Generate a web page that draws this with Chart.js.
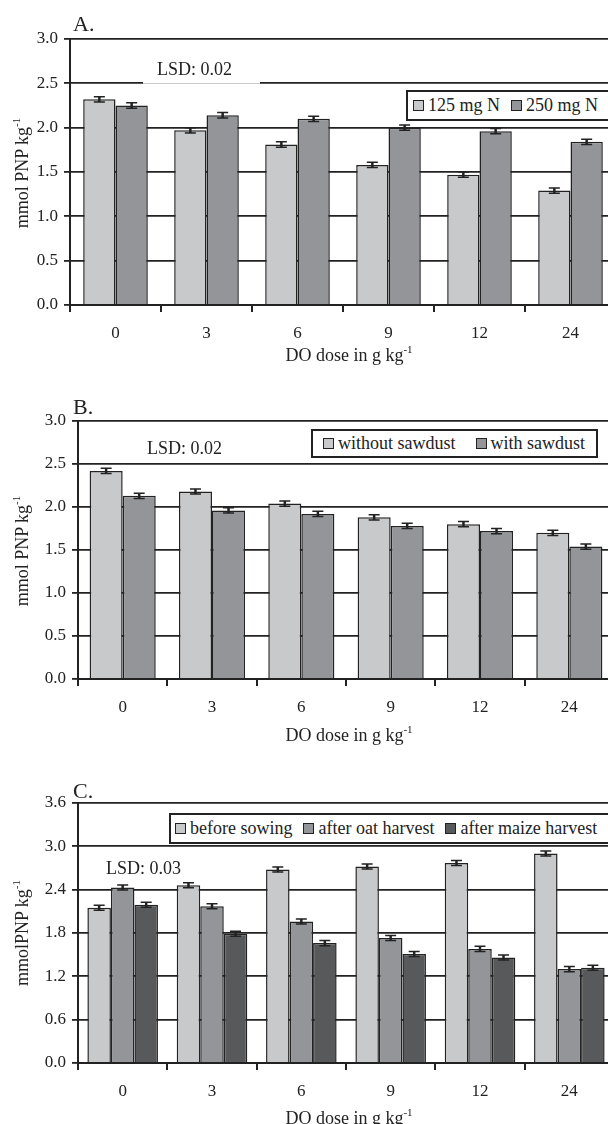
<!DOCTYPE html>
<html>
<head>
<meta charset="utf-8">
<script src="https://cdn.jsdelivr.net/npm/chart.js@4.4.1/dist/chart.umd.min.js"></script>
<style>
  body { margin: 0; background: #fff; overflow: hidden; }
  #wrap { position: relative; width: 608px; height: 1124px; overflow: hidden;
          font-family: "Liberation Serif", "Times New Roman", serif; color: #222; }
  canvas { position: absolute; left: 0; }
  .lbl { position: absolute; white-space: nowrap; line-height: 1; }
  .panel { font-size: 22px; }
  .xt { font-size: 18px; transform: translateX(-50%); }
  .yt { font-size: 18px; width: 200px; text-align: center; transform: rotate(-90deg); }
  .lsd { font-size: 18px; background: #fff; }
  sup { font-size: 11px; vertical-align: 0; position: relative; top: -8px; }
  .legend { position: absolute; border: 2px solid #222; background: #fff; box-sizing: border-box;
            display: flex; align-items: center; font-size: 18px; white-space: nowrap; }
  .sw { display: inline-block; width: 9px; height: 9px; border: 1.5px solid #222; margin-right: 4px; }
  .item { display: flex; align-items: center; }
</style>
</head>
<body>
<div id="wrap">
  <canvas id="chartA" width="620" height="380" style="top:0"></canvas>
  <canvas id="chartB" width="620" height="380" style="top:380px"></canvas>
  <canvas id="chartC" width="620" height="364" style="top:760px"></canvas>
</div>
<script>
// categories
const doses = ["0", "3", "6", "9", "12", "24"];

// panel A
const namesA = ["125 mg N", "250 mg N"];
const a125 = [2.32, 1.97, 1.81, 1.58, 1.47, 1.29];
const a250 = [2.25, 2.14, 2.10, 2.00, 1.96, 1.84];
const errA125 = [0.03, 0.03, 0.03, 0.03, 0.03, 0.03];
const errA250 = [0.03, 0.03, 0.03, 0.03, 0.03, 0.03];

// panel B
const namesB = ["without sawdust", "with sawdust"];
const bWithout = [2.42, 2.18, 2.04, 1.88, 1.80, 1.70];
const bWith = [2.13, 1.96, 1.92, 1.78, 1.72, 1.54];
const errBWithout = [0.03, 0.03, 0.03, 0.03, 0.03, 0.03];
const errBWith = [0.03, 0.03, 0.03, 0.03, 0.03, 0.03];

// panel C
const namesC = ["before sowing", "after oat harvest", "after maize harvest"];
const cBefore = [2.15, 2.46, 2.68, 2.72, 2.77, 2.90];
const cOat = [2.43, 2.17, 1.96, 1.73, 1.58, 1.30];
const cMaize = [2.19, 1.79, 1.66, 1.51, 1.46, 1.32];
const errCBefore = [0.035, 0.035, 0.035, 0.035, 0.035, 0.035];
const errCOat = [0.035, 0.035, 0.035, 0.035, 0.035, 0.035];
const errCMaize = [0.035, 0.035, 0.035, 0.035, 0.035, 0.035];

const LIGHT = "#c8c9cb", MID = "#939598", DARK = "#58595b", INK = "#222";
const FONT = "'Liberation Serif', 'Times New Roman', serif";

// error bars drawn on top of the bars
const errPlugin = {
  id: "errbars",
  afterDatasetsDraw(chart) {
    const c = chart.ctx, y = chart.scales.y;
    chart.data.datasets.forEach((ds, i) => {
      chart.getDatasetMeta(i).data.forEach((bar, j) => {
        const v = ds.data[j], e = ds.err[j];
        const t = y.getPixelForValue(v + e), b = y.getPixelForValue(v - e);
        c.save();
        c.strokeStyle = INK;
        c.lineWidth = 2.5;
        c.beginPath();
        c.moveTo(bar.x, t); c.lineTo(bar.x, b);
        c.stroke();
        c.lineWidth = 1.5;
        c.beginPath();
        c.moveTo(bar.x - 5.5, t); c.lineTo(bar.x + 5.5, t);
        c.moveTo(bar.x - 5.5, b); c.lineTo(bar.x + 5.5, b);
        c.stroke();
        c.restore();
      });
    });
  }
};

function makeChart(id, area, sets, yMax, step, catPct) {
  const cv = document.getElementById(id);
  const W = cv.width, H = cv.height;
  return new Chart(cv.getContext("2d"), {
    type: "bar",
    data: {
      labels: doses,
      datasets: sets.map(s => ({
        label: s.name, data: s.data, err: s.err,
        backgroundColor: s.color, borderColor: INK, borderWidth: 1.5,
        categoryPercentage: catPct, barPercentage: 1
      }))
    },
    options: {
      responsive: false,
      animation: false,
      layout: { padding: { top: area.top, right: W - area.right, left: 0, bottom: 0 } },
      plugins: { legend: { display: false }, tooltip: { enabled: false } },
      scales: {
        x: {
          grid: { display: true, drawOnChartArea: false, offset: true, tickLength: 7, color: INK, lineWidth: 2 },
          border: { display: true, color: INK, width: 2 },
          ticks: { font: { family: FONT, size: 17 }, color: INK, padding: 11, maxRotation: 0 },
          afterFit: s => { s.height = H - area.bottom; }
        },
        y: {
          min: 0, max: yMax,
          grid: { color: INK, lineWidth: 1.8, tickLength: 6 },
          border: { display: true, color: INK, width: 2 },
          ticks: { stepSize: step, font: { family: FONT, size: 17 }, color: INK, padding: 6,
                   callback: v => v.toFixed(1) },
          afterFit: s => { s.width = area.left; }
        }
      }
    },
    plugins: [errPlugin]
  });
}

makeChart("chartA", { left: 70, top: 39, right: 616, bottom: 305 }, [
  { name: namesA[0], data: a125, err: errA125, color: LIGHT },
  { name: namesA[1], data: a250, err: errA250, color: MID }
], 3.0, 0.5, 0.71);

makeChart("chartB", { left: 78, top: 41, right: 614, bottom: 299 }, [
  { name: namesB[0], data: bWithout, err: errBWithout, color: LIGHT },
  { name: namesB[1], data: bWith, err: errBWith, color: MID }
], 3.0, 0.5, 0.74);

makeChart("chartC", { left: 78, top: 43, right: 614, bottom: 303 }, [
  { name: namesC[0], data: cBefore, err: errCBefore, color: LIGHT },
  { name: namesC[1], data: cOat, err: errCOat, color: MID },
  { name: namesC[2], data: cMaize, err: errCMaize, color: DARK }
], 3.6, 0.6, 0.79);

// text overlays: panel letters, axis titles, LSD notes, legends
const wrap = document.getElementById("wrap");
function addText(cls, html, left, top, extra) {
  const d = document.createElement("div");
  d.className = "lbl " + cls;
  d.innerHTML = html;
  d.style.left = left + "px";
  d.style.top = top + "px";
  if (extra) Object.assign(d.style, extra);
  wrap.appendChild(d);
}
function addLegend(names, colors, box, gaps) {
  const d = document.createElement("div");
  d.className = "legend";
  Object.assign(d.style, { left: box.left + "px", top: box.top + "px",
    width: box.width + "px", height: box.height + "px", paddingLeft: box.pad + "px" });
  names.forEach((n, i) => {
    const it = document.createElement("span");
    it.className = "item";
    it.style.marginRight = gaps + "px";
    it.innerHTML = `<span class="sw" style="background:${colors[i]}"></span>${n}`;
    d.appendChild(it);
  });
  wrap.appendChild(d);
}

const yTitle = "mmol PNP kg<sup>-1</sup>";
const xTitle = "DO dose in g kg<sup>-1</sup>";

addText("panel", "A.", 73, 13);
addText("panel", "B.", 73, 396);
addText("panel", "C.", 73, 780);

addText("xt", xTitle, 349, 346);
addText("xt", xTitle, 349, 726);
addText("xt", xTitle, 349, 1109);

addText("yt", yTitle, 22 - 100, 173 - 9);
addText("yt", yTitle, 22 - 100, 551 - 9);
addText("yt", "mmolPNP kg<sup>-1</sup>", 22 - 100, 933 - 9);

addText("lsd", "LSD: 0.02", 143, 60, { width: "117px", paddingLeft: "14px", height: "24px",
  borderBottom: "1px solid #ccc", boxSizing: "border-box" });
addText("lsd", "LSD: 0.02", 147, 439, { background: "transparent" });
addText("lsd", "LSD: 0.03", 106, 859, { background: "transparent" });

addLegend(namesA, [LIGHT, MID], { left: 406, top: 90, width: 220, height: 31, pad: 5 }, 11);
addLegend(namesB, [LIGHT, MID], { left: 311, top: 429, width: 287, height: 29, pad: 10 }, 20);
addLegend(namesC, [LIGHT, MID, DARK], { left: 169, top: 813, width: 450, height: 31, pad: 4 }, 11);
</script>
</body>
</html>
